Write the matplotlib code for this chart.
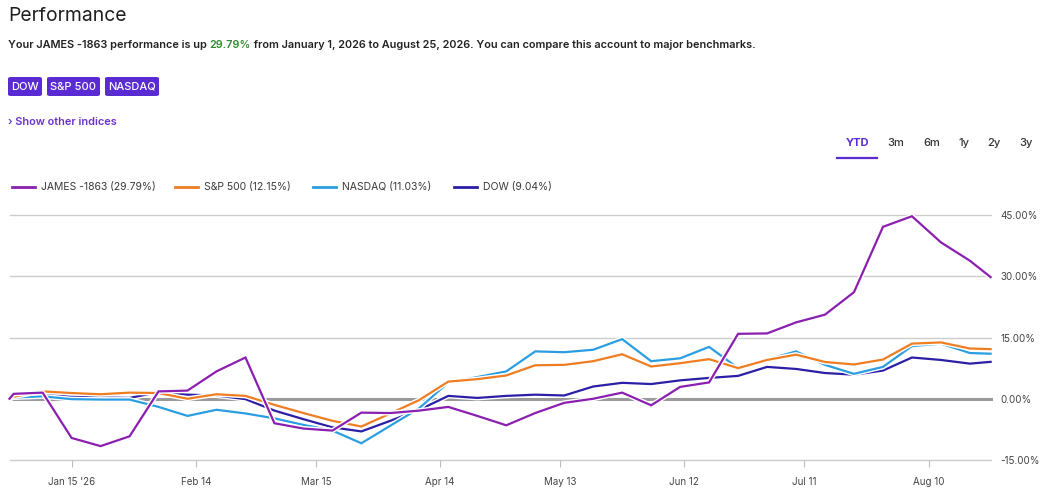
import matplotlib
matplotlib.use("Agg")
import matplotlib.pyplot as plt
import matplotlib.dates as mdates
import matplotlib.patheffects as pe
from matplotlib.patches import FancyBboxPatch
import pandas as pd

plt.rcParams['font.family'] = ['Inter', 'DejaVu Sans']

# ---------------- data ----------------
dates = ([pd.Timestamp('2025-12-31')]
         + list(pd.date_range('2026-01-01', '2026-08-20', freq='7D'))
         + [pd.Timestamp('2026-08-25')])

james = [0.0, 1.2, 1.5, -9.6, -11.6, -9.2, 1.8, 2.0, 6.7, 10.1, -6.0, -7.3,
         -7.8, -3.4, -3.5, -2.9, -2.0, -4.2, -6.5, -3.5, -1.0, 0.0, 1.5, -1.6,
         2.9, 4.0, 15.9, 16.0, 18.7, 20.6, 26.1, 42.1, 44.7, 38.3, 33.8, 29.79]
sp500 = [0.0, 0.5, 1.8, 1.4, 1.1, 1.5, 1.4, 0.0, 1.1, 0.7, -1.5, -3.5,
         -5.4, -6.8, -3.6, -0.3, 4.2, 4.8, 5.7, 8.2, 8.3, 9.2, 10.9, 7.9,
         8.7, 9.7, 7.5, 9.5, 10.8, 9.0, 8.4, 9.6, 13.5, 13.8, 12.3, 12.15]
nasdaq = [0.0, 0.3, 0.6, -0.1, -0.2, -0.2, -2.0, -4.2, -2.7, -3.6, -4.8, -6.4,
          -7.8, -10.9, -6.6, -2.3, 4.0, 5.3, 6.7, 11.6, 11.4, 12.0, 14.6, 9.2,
          9.9, 12.7, 7.5, 9.6, 11.6, 8.3, 6.1, 7.8, 12.9, 13.5, 11.2, 11.03]
dow = [0.0, 0.5, 1.0, 0.5, 0.3, 0.2, 1.6, 1.0, 0.8, -0.1, -2.9, -5.0,
       -7.0, -8.0, -5.4, -2.7, 0.7, 0.2, 0.7, 1.0, 0.8, 3.0, 3.9, 3.6,
       4.5, 5.1, 5.6, 7.8, 7.3, 6.3, 5.9, 6.9, 10.1, 9.5, 8.6, 9.04]

series_names = ['JAMES -1863 (29.79%)', 'S&P 500 (12.15%)', 'NASDAQ (11.03%)', 'DOW (9.04%)']
series_colors = ['#8a1fb0', '#ef7d22', '#2a9ee0', '#2b1fa6']

x_ticks = ['2026-01-15', '2026-02-14', '2026-03-15', '2026-04-14',
           '2026-05-13', '2026-06-12', '2026-07-11', '2026-08-10']
x_tick_labels = ["Jan 15 '26", 'Feb 14', 'Mar 15', 'Apr 14', 'May 13', 'Jun 12', 'Jul 11', 'Aug 10']
y_ticks = [-15, 0, 15, 30, 45]
y_tick_labels = ['-15.00%', '0.00%', '15.00%', '30.00%', '45.00%']

buttons = ['DOW', 'S&P 500', 'NASDAQ']
ranges = ['YTD', '3m', '6m', '1y', '2y', '3y']

# ---------------- figure ----------------
W, H = 1041, 492
fig = plt.figure(figsize=(W / 100, H / 100), dpi=100)
fig.patch.set_facecolor('white')

def fx(px):
    return px / W

def fy(py):
    return 1 - py / H

ax = fig.add_axes([fx(9.5), fy(460), fx(990.6) - fx(9.5), fy(215) - fy(460)])
ax.set_facecolor('white')
for s in ax.spines.values():
    s.set_visible(False)

# grid lines
for v in y_ticks:
    if v == 0:
        ax.axhline(v, color='#9a9a9a', lw=2.2, zorder=1, clip_on=False)
    else:
        ax.axhline(v, color='#cccccc', lw=1.0, zorder=1, clip_on=False)

series = [james, sp500, nasdaq, dow]
zorders = [6, 5, 4, 3]
for vals, name, col, z in zip(series, series_names, series_colors, zorders):
    ax.plot(dates, vals, color=col, lw=1.6, zorder=z, clip_on=False,
            solid_joinstyle='miter', label=name,
            path_effects=[pe.Stroke(linewidth=3.6, foreground='white'), pe.Normal()])

ax.set_xlim(dates[0], dates[-1])
ax.set_ylim(-15, 45)

ax.set_xticks([pd.Timestamp(d) for d in x_ticks])
ax.set_xticklabels(x_tick_labels)
ax.tick_params(axis='x', length=5, width=0.8, color='#bdbdbd', pad=7,
               labelsize=7.0, labelcolor='#444444')

ax.yaxis.tick_right()
ax.set_yticks(y_ticks)
ax.set_yticklabels(y_tick_labels)
ax.tick_params(axis='y', length=0, pad=7, labelsize=7.1, labelcolor='#444444')

# ---------------- header ----------------
fig.text(fx(8), fy(16), 'Performance', fontsize=13.9, color='#1e1e1e',
         va='center', ha='left')

BODY = 7.85
t1 = fig.text(fx(8), fy(45), 'Your JAMES -1863 performance is up ', fontsize=BODY,
              fontweight='semibold', color='#222222', va='center', ha='left')
fig.canvas.draw()
r = fig.canvas.get_renderer()
bb = t1.get_window_extent(r)
t2 = fig.text(bb.x1 / W, fy(45), '29.79%', fontsize=BODY, fontweight='semibold',
              color='#2e8b2e', va='center', ha='left')
bb2 = t2.get_window_extent(r)
fig.text(bb2.x1 / W, fy(45),
         ' from January 1, 2026 to August 25, 2026. You can compare this account to major benchmarks.',
         fontsize=BODY, fontweight='semibold', color='#222222', va='center', ha='left')

# buttons
btn_x = [(8, 42), (47, 100), (105, 159)]
for (x0, x1), lab in zip(btn_x, buttons):
    p = FancyBboxPatch((fx(x0), fy(96)), fx(x1) - fx(x0), fy(77) - fy(96),
                       boxstyle='round,pad=0,rounding_size=0.003',
                       transform=fig.transFigure, facecolor='#5a2bd3',
                       edgecolor='none')
    fig.patches.append(p)
    fig.text(fx((x0 + x1) / 2), fy(86.5), lab, fontsize=8.0, fontweight='medium',
             color='white', va='center', ha='center')

fig.text(fx(8), fy(122), '› Show other indices', fontsize=BODY, fontweight='semibold',
         color='#6a33c8', va='center', ha='left')

# range selector
range_x = [857, 896, 932, 964, 994, 1026]
for lab, xc in zip(ranges, range_x):
    sel = lab == 'YTD'
    fig.text(fx(xc), fy(143), lab, fontsize=8.0,
             fontweight='bold' if sel else 'medium',
             color='#5a2bd3' if sel else '#333333', va='center', ha='center')
fig.add_artist(plt.Line2D([fx(837), fx(877)], [fy(158), fy(158)],
                          transform=fig.transFigure, color='#5a2bd3', lw=1.6))

# legend
leg_x = [12, 175, 313, 454]
for lx, name, col in zip(leg_x, series_names, series_colors):
    fig.add_artist(plt.Line2D([fx(lx), fx(lx + 23)], [fy(187), fy(187)],
                              transform=fig.transFigure, color=col, lw=2.0))
    fig.text(fx(lx + 29), fy(187), name, fontsize=7.5, color='#3a3a3a',
             va='center', ha='left')

fig.savefig('out.png', dpi=100, facecolor='white')
